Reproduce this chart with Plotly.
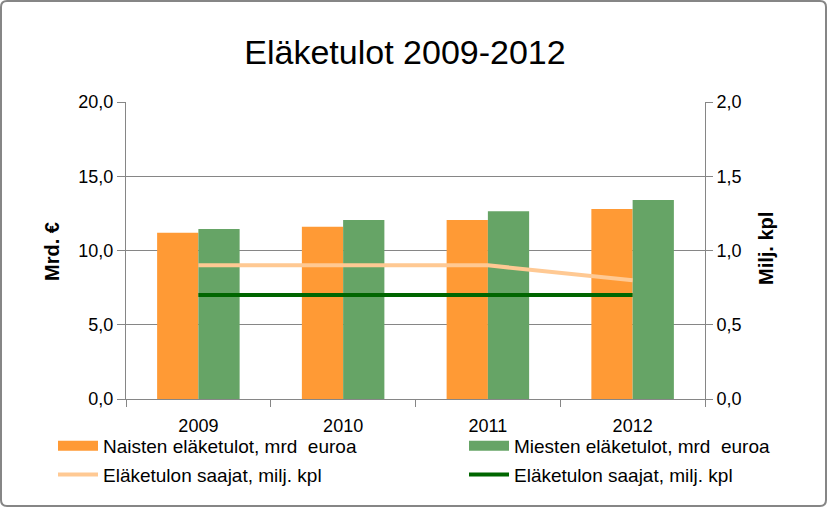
import plotly.graph_objects as go

years = ["2009", "2010", "2011", "2012"]
naiset = [11.2, 11.6, 12.05, 12.8]
miehet = [11.45, 12.05, 12.65, 13.4]
saajat_light = [0.9, 0.9, 0.9, 0.8]
saajat_dark = [0.7, 0.7, 0.7, 0.7]
left_ticks = [0, 5, 10, 15, 20]
right_ticks = [0, 0.5, 1.0, 1.5, 2.0]

FONT = "Liberation Sans, Arial, sans-serif"
C_NAISET = "#FF9A35"
C_MIEHET = "#66A466"
C_LIGHT = "#FFC993"
C_DARK = "#006600"

W, H = 828, 508
L, R, T, B = 126, 123, 102, 109
pw, ph = W - L - R, H - T - B


def px_x(p):
    return (p - L) / pw


def px_y(p):
    return (H - B - p) / ph


fig = go.Figure()
fig.add_trace(go.Bar(x=years, y=naiset, name="Naisten eläketulot, mrd  euroa",
                     marker=dict(color=C_NAISET, line=dict(width=0)),
                     showlegend=False, legendgroup="n"))
fig.add_trace(go.Bar(x=years, y=miehet, name="Miesten eläketulot, mrd  euroa",
                     marker=dict(color=C_MIEHET, line=dict(width=0)),
                     showlegend=False, legendgroup="m"))
fig.add_trace(go.Scatter(x=years, y=saajat_light, name="Eläketulon saajat, milj. kpl",
                         mode="lines", line=dict(color=C_LIGHT, width=4), yaxis="y2",
                         legend="legend", legendgroup="l", legendrank=2))
fig.add_trace(go.Scatter(x=years, y=saajat_dark, name="Eläketulon saajat, milj. kpl",
                         mode="lines", line=dict(color=C_DARK, width=4), yaxis="y2",
                         legend="legend2", legendgroup="d", legendrank=2))
# legend keys for the bar series (block-shaped keys as in the original)
fig.add_trace(go.Scatter(x=[None], y=[None], name="Naisten eläketulot, mrd  euroa",
                         mode="lines", line=dict(color=C_NAISET, width=12),
                         legend="legend", legendgroup="n", legendrank=1,
                         hoverinfo="skip"))
fig.add_trace(go.Scatter(x=[None], y=[None], name="Miesten eläketulot, mrd  euroa",
                         mode="lines", line=dict(color=C_MIEHET, width=12),
                         legend="legend2", legendgroup="m", legendrank=1,
                         hoverinfo="skip"))

axis_common = dict(showline=True, linecolor="#868686", linewidth=1,
                   ticks="outside", tickcolor="#868686",
                   automargin=False, zeroline=False,
                   tickfont=dict(size=18, family=FONT, color="black"))

legend_common = dict(orientation="v", yanchor="top", xanchor="left",
                     itemwidth=40, tracegroupgap=1, traceorder="grouped",
                     font=dict(size=19, family=FONT, color="black"),
                     bgcolor="rgba(0,0,0,0)", borderwidth=0,
                     groupclick="toggleitem")

# rounded outer chart border
bx0, bx1, by0, by1, rr = px_x(1), px_x(826), px_y(506), px_y(1), 6
rx, ry = rr / pw, rr / ph
border_path = (
    f"M {bx0 + rx},{by1} L {bx1 - rx},{by1} Q {bx1},{by1} {bx1},{by1 - ry} "
    f"L {bx1},{by0 + ry} Q {bx1},{by0} {bx1 - rx},{by0} "
    f"L {bx0 + rx},{by0} Q {bx0},{by0} {bx0},{by0 + ry} "
    f"L {bx0},{by1 - ry} Q {bx0},{by1} {bx0 + rx},{by1} Z"
)

fig.update_layout(
    width=W, height=H,
    margin=dict(l=L, r=R, t=T, b=B, autoexpand=False),
    paper_bgcolor="white", plot_bgcolor="white",
    font=dict(family=FONT, size=17, color="black"),
    separators=", ",
    barmode="group", bargap=0.43, bargroupgap=0,
    title=dict(text="Eläketulot 2009-2012", x=405 / W, xanchor="center",
               y=1 - 52 / H, yanchor="middle",
               font=dict(family=FONT, size=34, color="black")),
    xaxis=dict(**axis_common, tickson="boundaries", showgrid=False,
               ticklen=7, ticklabelstandoff=10),
    yaxis=dict(**axis_common, range=[0, 20], tickvals=left_ticks, tickformat=".1f",
               showgrid=True, gridcolor="#868686", gridwidth=1,
               ticklen=8, ticksuffix="\u00a0\u200a"),
    yaxis2=dict(**axis_common, range=[0, 2], tickvals=right_ticks, tickformat=".1f",
                overlaying="y", side="right", showgrid=False,
                ticklen=7, tickprefix="\u00a0"),
    legend=dict(**legend_common, x=px_x(53), y=px_y(427)),
    legend2=dict(**legend_common, x=px_x(464), y=px_y(427)),
    annotations=[
        dict(text="<b>Mrd. €</b>", textangle=-90, xref="paper", yref="paper",
             x=px_x(52), y=px_y(252), xanchor="center", yanchor="middle",
             showarrow=False, font=dict(size=20, family=FONT, color="black")),
        dict(text="<b>Milj. kpl</b>", textangle=-90, xref="paper", yref="paper",
             x=px_x(766), y=px_y(249), xanchor="center", yanchor="middle",
             showarrow=False, font=dict(size=20, family=FONT, color="black")),
    ],
    shapes=[dict(type="path", xref="paper", yref="paper", path=border_path,
                 line=dict(color="#868686", width=2), layer="below")],
)

fig.write_html("out.html", config={"displayModeBar": False},
               post_script="document.body.style.margin='0px';document.body.style.padding='0px';")
